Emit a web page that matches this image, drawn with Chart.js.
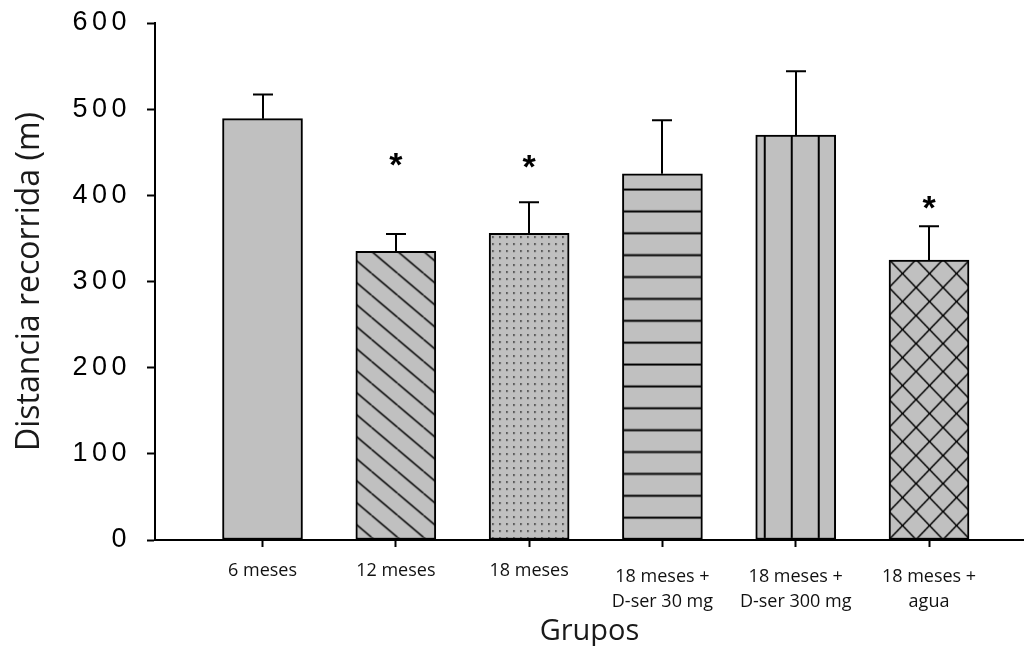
<!DOCTYPE html>
<html>
<head>
<meta charset="utf-8">
<script src="https://cdn.jsdelivr.net/npm/chart.js@4/dist/chart.umd.min.js"></script>
<style>
  html, body { margin: 0; padding: 0; background: #fff; }
  #wrap { width: 1024px; height: 646px; }
</style>
</head>
<body>
<div id="wrap"><canvas id="c" width="1024" height="646"></canvas></div>
<script>
// Groups (x-axis labels), one entry per bar
const GROUPS = [
  ['6 meses'],
  ['12 meses'],
  ['18 meses'],
  ['18 meses +', 'D-ser 30 mg'],
  ['18 meses +', 'D-ser 300 mg'],
  ['18 meses +', 'agua']
];
// Mean distance travelled (m) and standard error
const MEANS = [489, 335, 356, 425, 470, 325];
const SEM = [28, 20, 36, 62, 74, 39];
// Significance markers: value (m) at which the asterisk sits, null = none
const STAR_AT = [null, 442, 439, null, null, 392];
// Y axis ticks
const Y_TICKS = [0, 100, 200, 300, 400, 500, 600];

const BAR_FILL = '#c0c0c0';
const INK = '#000000';

function line(g, x1, y1, x2, y2, lw) {
  g.lineWidth = lw;
  g.beginPath();
  g.moveTo(x1, y1);
  g.lineTo(x2, y2);
  g.stroke();
}

const ctx0 = document.getElementById('c').getContext('2d');
function makePattern(kind) {
  const mk = (w, h, paint) => {
    const cv = document.createElement('canvas');
    cv.width = w; cv.height = h;
    const g = cv.getContext('2d');
    g.fillStyle = BAR_FILL;
    g.fillRect(0, 0, w, h);
    g.strokeStyle = INK;
    g.fillStyle = INK;
    paint(g, w, h);
    return ctx0.createPattern(cv, 'repeat');
  };
  switch (kind) {
    case 'diag':
      return mk(26, 22, (g, w, h) => {
        for (let k = -1; k <= 1; k++) line(g, k * w, 0, (k + 1) * w, h, 1.5);
      });
    case 'dots':
      return mk(7, 7, (g) => {
        g.fillStyle = '#222';
        g.fillRect(3, 3, 1.6, 1.6);
      });
    case 'hlines':
      return mk(8, 175, (g, w, h) => {
        const step = h / 8;
        for (let k = 0; k <= 8; k++) g.fillRect(0, k * step - 1, w, 2);
      });
    case 'vlines':
      return mk(27, 8, (g) => {
        g.fillRect(8, 0, 2, 8);
      });
    case 'cross':
      return mk(27, 28, (g, w, h) => {
        for (let k = -1; k <= 1; k++) {
          line(g, k * w, 0, (k + 1) * w, h, 1.5);
          line(g, (k + 1) * w, 0, k * w, h, 1.5);
        }
      });
    default:
      return BAR_FILL;
  }
}

const PATTERN_KINDS = ['solid', 'diag', 'dots', 'hlines', 'vlines', 'cross'];
const PATTERNS = PATTERN_KINDS.map(makePattern);
// where each fill pattern is anchored inside its bar: [dx from left, 'top' | 'base']
const PATTERN_ANCHOR = [null, [15.7, 'top'], [0, 'top'], [0, 'base'], [0, 'base'], [0, 'base']];

// Keep every fill pattern fixed to its own bar
const anchorPatterns = {
  id: 'anchorPatterns',
  beforeDatasetsDraw(chart) {
    const meta = chart.getDatasetMeta(0);
    meta.data.forEach((bar, i) => {
      const p = PATTERNS[i];
      const a = PATTERN_ANCHOR[i];
      if (!a || !p || !p.setTransform) return;
      const left = bar.x - bar.width / 2;
      const oy = a[1] === 'top' ? bar.y : bar.base;
      p.setTransform(new DOMMatrix([1, 0, 0, 1, left + a[0], oy]));
    });
  }
};

// Wider letter spacing for the y tick numbers
const spacedYLabels = {
  id: 'spacedYLabels',
  beforeDraw(chart) {
    const s = chart.scales.y;
    if (s && !s._spaced) {
      const orig = s.drawLabels.bind(s);
      s.drawLabels = (area) => {
        const c = chart.ctx;
        c.save();
        c.letterSpacing = '4.5px';
        orig(area);
        c.restore();
      };
      s._spaced = true;
    }
  }
};

// Upper error bars and significance asterisks
const errorBars = {
  id: 'errorBars',
  afterDatasetsDraw(chart) {
    const c = chart.ctx;
    const y = chart.scales.y;
    const meta = chart.getDatasetMeta(0);
    c.save();
    c.strokeStyle = INK;
    c.lineWidth = 2;
    meta.data.forEach((bar, i) => {
      const x = Math.round(bar.x);
      const yTop = y.getPixelForValue(MEANS[i] + SEM[i]);
      c.beginPath();
      c.moveTo(x, bar.y);
      c.lineTo(x, yTop);
      c.moveTo(x - 10, yTop);
      c.lineTo(x + 10, yTop);
      c.stroke();
      if (STAR_AT[i] != null) {
        c.font = 'bold 34px "Liberation Sans", Arial, sans-serif';
        c.fillStyle = INK;
        c.textAlign = 'center';
        c.textBaseline = 'alphabetic';
        const m = c.measureText('*');
        const yc = y.getPixelForValue(STAR_AT[i]);
        const off = (m.actualBoundingBoxAscent - m.actualBoundingBoxDescent) / 2;
        c.fillText('*', bar.x, yc + off);
      }
    });
    c.restore();
  }
};

new Chart(document.getElementById('c'), {
  type: 'bar',
  data: {
    datasets: [{
      data: MEANS.map((v, i) => ({ x: i + 1, y: v })),
      backgroundColor: PATTERNS,
      borderColor: INK,
      borderWidth: 2,
      borderSkipped: false,
      barThickness: 80
    }]
  },
  options: {
    responsive: false,
    animation: false,
    devicePixelRatio: 1,
    layout: { padding: { top: 23, left: 0, right: 0, bottom: 0 } },
    plugins: { legend: { display: false }, tooltip: { enabled: false } },
    scales: {
      x: {
        type: 'linear',
        offset: false,
        min: 0.1935,
        max: 6.7125,
        afterBuildTicks: (s) => { s.ticks = GROUPS.map((g, i) => ({ value: i + 1 })); },
        afterFit: (s) => { s.height = 106; s.paddingLeft = 0; s.paddingRight = 0; },
        grid: { offset: false, drawOnChartArea: false, drawTicks: true, tickLength: 7, tickWidth: 2, tickColor: INK },
        border: { display: true, color: INK, width: 2 },
        ticks: {
          autoSkip: false,
          maxRotation: 0,
          color: '#111',
          padding: 18,
          callback: (v) => GROUPS[v - 1],
          font: (c) => ({
            family: '"Open Sans", sans-serif',
            size: 18,
            lineHeight: (GROUPS[c.index] && GROUPS[c.index].length > 1) ? 1.35 : 0.66
          })
        },
        title: {
          display: true,
          text: 'Grupos',
          color: '#1a1a1a',
          font: { family: '"Open Sans", sans-serif', size: 29, lineHeight: 1 },
          padding: { top: 0, bottom: 0 }
        }
      },
      y: {
        min: 0,
        max: 600,
        afterBuildTicks: (s) => { s.ticks = Y_TICKS.map((v) => ({ value: v })); },
        afterFit: (s) => { s.width = 155; s.paddingTop = 0; s.paddingBottom = 0; },
        grid: { drawOnChartArea: false, drawTicks: true, tickLength: 8, tickWidth: 2, tickColor: INK },
        border: { display: true, color: INK, width: 2 },
        ticks: {
          color: INK,
          padding: 16,
          font: { family: '"Liberation Sans", Arial, sans-serif', size: 27 }
        },
        title: {
          display: true,
          text: 'Distancia recorrida (m)',
          color: '#1a1a1a',
          font: { family: '"Open Sans", sans-serif', size: 32, lineHeight: 1.2 },
          padding: { top: 11, bottom: 0 }
        }
      }
    }
  },
  plugins: [anchorPatterns, spacedYLabels, errorBars]
});
</script>
</body>
</html>
